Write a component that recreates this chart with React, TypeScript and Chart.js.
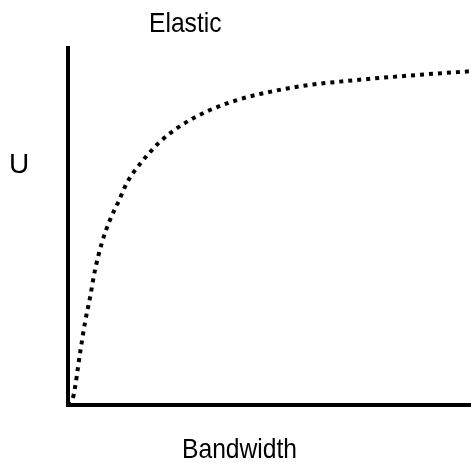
import React, { useEffect, useRef } from "react";
import { Chart, registerables } from "chart.js";

Chart.register(...registerables);

const titleText = "Elastic";
const xLabel = "Bandwidth";
const yLabel = "U";

// Curve (x: bandwidth, y: utility)
const bandwidth = [0, 1.3, 3.0, 4.2, 5.5, 6.7, 8.4, 10.4, 12.7, 14.6, 18.3, 22.8, 28.2, 34.4, 41.9, 47.6, 58.3, 69.5, 85, 100];
const utility = [0, 2.3, 14.6, 23.0, 30.3, 37.8, 45.4, 51.8, 57.4, 62.2, 68.1, 73.7, 78.4, 82.2, 85.4, 87.1, 89.4, 90.8, 92.3, 93.5];

const labelPlugin = {
  id: "labels",
  afterDraw(chart: any) {
    const { ctx, chartArea } = chart;
    const put = (text: string, x: number, y: number, sx: number) => {
      ctx.save();
      ctx.translate(x, y);
      ctx.scale(sx, 1);
      ctx.fillText(text, 0, 0);
      ctx.restore();
    };
    ctx.save();
    ctx.fillStyle = "#000";
    ctx.font = '28px "Liberation Sans", Arial, sans-serif';
    ctx.textBaseline = "alphabetic";
    ctx.textAlign = "left";
    put(titleText, chartArea.left + 81, chartArea.top - 16, 0.88);
    put(xLabel, chartArea.left + 114, chartArea.bottom + 53, 0.88);
    put(yLabel, 9, chartArea.top + 125, 1);
    ctx.restore();
  },
};

export default function App() {
  const ref = useRef<HTMLCanvasElement | null>(null);
  useEffect(() => {
    document.body.style.margin = "0";
    const canvas = ref.current!;
    const chart = new Chart(canvas, {
      type: "line",
      data: {
        datasets: [
          {
            data: bandwidth.map((x, i) => ({ x, y: utility[i] })),
            borderColor: "#000",
            borderWidth: 4,
            borderDash: [4, 5],
            borderCapStyle: "butt",
            pointRadius: 0,
            cubicInterpolationMode: "monotone",
            fill: false,
          },
        ],
      },
      options: {
        animation: false,
        responsive: false,
        devicePixelRatio: 1,
        layout: { padding: { left: 68, top: 48, right: 0, bottom: 60 } },
        plugins: { legend: { display: false }, tooltip: { enabled: false }, title: { display: false } },
        scales: {
          x: {
            type: "linear",
            min: 0,
            max: 100,
            grid: { display: false, drawTicks: false },
            ticks: { display: false },
            border: { display: true, color: "#000", width: 4 },
          },
          y: {
            type: "linear",
            min: 0,
            max: 100,
            grid: { display: false, drawTicks: false },
            ticks: { display: false },
            border: { display: true, color: "#000", width: 4 },
          },
        },
      },
      plugins: [labelPlugin],
    });
    return () => chart.destroy();
  }, []);
  return <canvas ref={ref} width={471} height={465} style={{ display: "block" }} />;
}
